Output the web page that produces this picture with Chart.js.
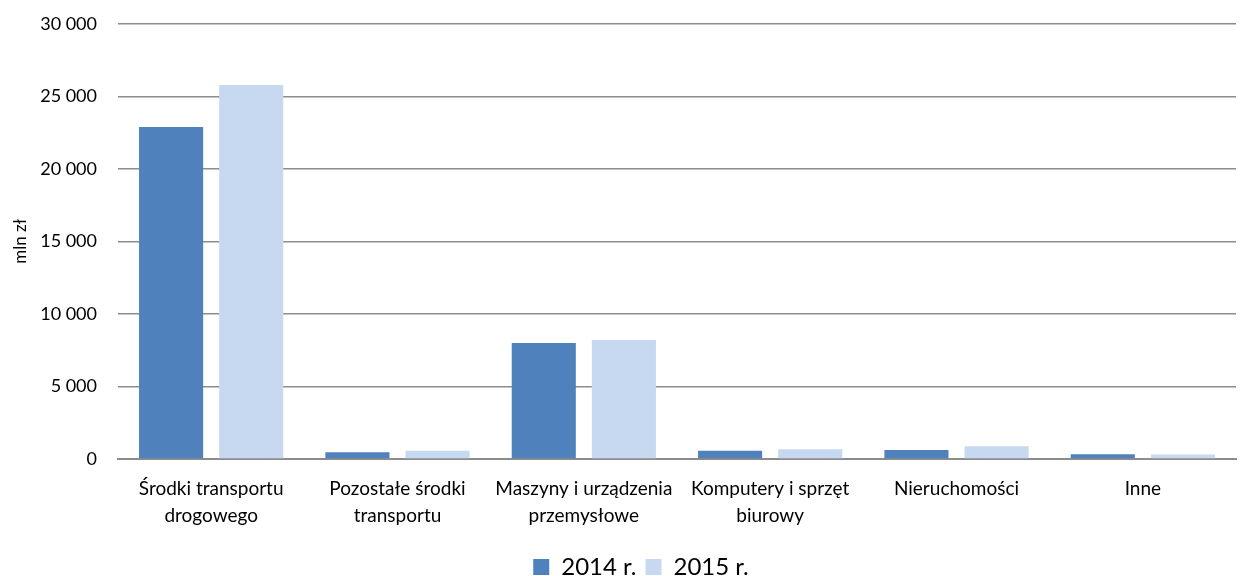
<!DOCTYPE html>
<html>
<head>
<meta charset="utf-8">
<script src="https://cdn.jsdelivr.net/npm/chart.js@4"></script>
<style>
html,body{margin:0;padding:0;background:#fff;}
#wrap{width:1249px;height:576px;position:relative;}
</style>
</head>
<body>
<div id="wrap"><canvas id="c" width="1249" height="576"></canvas></div>
<script>
const categories = [
  ["Środki transportu", "drogowego"],
  ["Pozostałe środki", "transportu"],
  ["Maszyny i urządzenia", "przemysłowe"],
  ["Komputery i sprzęt", "biurowy"],
  ["Nieruchomości"],
  ["Inne"]
];
const series2014 = [22900, 460, 8000, 570, 620, 320];
const series2015 = [25800, 570, 8200, 670, 880, 300];
const yTicks = [0, 5000, 10000, 15000, 20000, 25000, 30000];
const seriesNames = ["2014 r.", "2015 r."];

const fmt = v => String(v).replace(/\B(?=(\d{3})+(?!\d))/g, " ");
const FONT = "Lato, 'Open Sans', sans-serif";

const shiftLegend = {
  id: 'shiftLegend',
  afterLayout(chart) {
    if (chart.legend) { chart.legend.left += 23; chart.legend.right += 23; }
  }
};

new Chart(document.getElementById('c'), {
  type: 'bar',
  data: {
    labels: categories,
    datasets: [
      { label: seriesNames[0], data: series2014, backgroundColor: '#4f81bd', barPercentage: 0.8, categoryPercentage: 0.86 },
      { label: seriesNames[1], data: series2015, backgroundColor: '#c6d9f0', barPercentage: 0.8, categoryPercentage: 0.86 }
    ]
  },
  plugins: [shiftLegend],
  options: {
    responsive: false,
    animation: false,
    layout: { padding: { left: 0, right: 13, top: 24, bottom: -13 } },
    plugins: {
      legend: {
        position: 'bottom',
        labels: {
          color: '#000',
          font: { family: FONT, size: 24 },
          boxWidth: 16, boxHeight: 16,
          padding: 9
        }
      },
      tooltip: { enabled: false }
    },
    scales: {
      x: {
        grid: { display: false, drawTicks: false },
        border: { color: '#8c8c8c', width: 2 },
        ticks: { color: '#000', font: { family: FONT, size: 19, lineHeight: 1.45 }, padding: 16, maxRotation: 0, autoSkip: false }
      },
      y: {
        min: 0, max: 30000,
        afterBuildTicks: axis => { axis.ticks = yTicks.map(v => ({ value: v })); },
        afterFit: axis => { axis.width = 118; axis.paddingTop = 0; axis.paddingBottom = 0; },
        grid: { color: '#8c8c8c', lineWidth: 1.5, drawTicks: false },
        border: { display: false },
        ticks: { color: '#000', font: { family: FONT, size: 18, lineHeight: 0.6 }, padding: 21, callback: v => fmt(v) },
        title: { display: true, text: 'mln zł', color: '#000', font: { family: FONT, size: 17 }, padding: { top: 10, bottom: 4 } }
      }
    }
  }
});
</script>
</body>
</html>
